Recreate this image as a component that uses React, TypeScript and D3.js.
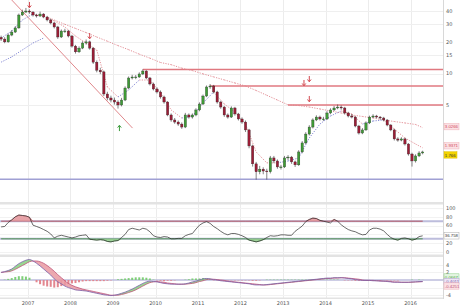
import React from "react";
import * as d3 from "d3";

// monthly bars starting May 2006
const closes = [
  21.5, 20.2, 23.5, 25.1, 27.5, 36.6, 39.1, 40.0, 39.1, 36.6,
  35.8, 37.4, 35.0, 32.8, 30.7, 28.1, 22.5, 25.7, 25.7, 23.0,
  18.4, 16.2, 17.6, 19.7, 20.2, 17.6, 12.9, 10.8, 10.4, 6.38,
  5.84, 5.58, 5.34, 5.00, 5.58, 7.28, 9.09, 9.29, 9.29, 9.93,
  10.6, 9.09, 7.96, 7.12, 6.67, 5.97, 5.34, 4.01, 3.59, 3.43,
  3.28, 3.07, 4.01, 3.83, 4.01, 4.48, 5.11, 6.10, 7.45, 7.61,
  6.67, 5.34, 4.78, 4.01, 3.83, 4.68, 4.10, 3.67, 3.43, 2.88,
  2.02, 1.36, 1.14, 1.21, 1.16, 1.14, 1.55, 1.45, 1.27, 1.27,
  1.55, 1.58, 1.42, 1.33, 1.77, 2.16, 2.63, 3.07, 3.59, 3.83,
  3.67, 3.67, 4.19, 4.48, 4.68, 4.78, 4.68, 4.19, 3.92, 3.83,
  3.14, 2.69, 2.88, 3.36, 3.83, 3.92, 3.83, 3.75, 3.59, 3.21,
  2.88, 2.36, 2.30, 2.36, 2.11, 1.69, 1.45, 1.62, 1.73, 1.77,
];
const firstOpen = 22.3;
const highs = [
  23.2, 22.4, 24.3, 26.2, 28.6, 37.8, 41.2, 42.8, 41.5, 39.8,
  37.6, 39.5, 38.2, 35.9, 33.6, 31.4, 28.8, 26.6, 27.0, 26.3,
  23.6, 18.9, 18.3, 20.5, 21.3, 20.8, 18.0, 13.4, 11.4, 10.7,
  6.70, 6.15, 5.90, 5.55, 5.85, 7.55, 9.40, 9.75, 9.70, 10.3,
  11.0, 10.8, 9.30, 8.20, 7.40, 6.90, 6.15, 5.45, 4.15, 3.75,
  3.55, 3.40, 4.20, 4.15, 4.15, 4.65, 5.30, 6.30, 7.70, 7.95,
  7.80, 6.85, 5.50, 4.90, 4.15, 4.85, 4.80, 4.20, 3.80, 3.55,
  2.95, 2.08, 1.42, 1.30, 1.26, 1.22, 1.62, 1.62, 1.50, 1.33,
  1.62, 1.65, 1.62, 1.46, 1.84, 2.25, 2.74, 3.20, 3.72, 3.98,
  3.95, 3.85, 4.35, 4.65, 4.90, 5.05, 4.95, 4.80, 4.30, 4.10,
  3.92, 3.22, 3.00, 3.48, 3.95, 4.08, 4.02, 3.92, 3.85, 3.65,
  3.28, 2.95, 2.45, 2.45, 2.42, 2.15, 1.74, 1.68, 1.80, 1.82,
];
const lows = [
  20.6, 19.6, 19.8, 22.9, 24.6, 27.0, 35.8, 38.2, 37.6, 35.4,
  34.6, 35.0, 34.1, 31.8, 29.8, 27.2, 21.6, 22.0, 24.6, 22.3,
  17.8, 15.6, 15.8, 17.2, 19.0, 17.0, 12.4, 10.3, 9.9, 6.10,
  5.55, 5.30, 5.05, 4.62, 4.85, 5.45, 7.10, 8.80, 8.85, 9.10,
  9.70, 8.85, 7.70, 6.90, 6.45, 5.75, 5.15, 3.90, 3.45, 3.30,
  3.15, 2.95, 3.00, 3.70, 3.70, 3.90, 4.35, 5.00, 5.95, 7.15,
  6.45, 5.15, 4.60, 3.85, 3.70, 3.75, 3.95, 3.55, 3.30, 2.75,
  1.92, 1.28, 0.96, 1.08, 1.08, 0.96, 1.10, 1.38, 1.22, 1.20,
  1.24, 1.48, 1.36, 1.27, 1.30, 1.72, 2.10, 2.55, 2.98, 3.50,
  3.55, 3.52, 3.60, 4.08, 4.38, 4.55, 4.50, 4.05, 3.80, 3.72,
  3.05, 2.60, 2.62, 2.82, 3.28, 3.75, 3.72, 3.62, 3.48, 3.12,
  2.80, 2.28, 2.22, 2.24, 2.04, 1.63, 1.28, 1.40, 1.58, 1.68,
];

// moving averages, sampled at month indices
const shortMaIdx = [0, 3, 6, 9, 12, 15, 18, 21, 24, 27, 30, 33, 36, 39, 42, 45, 48, 51, 54, 57, 60, 63, 66, 69, 72, 75, 78, 81, 84, 87, 90, 93, 96, 99, 102, 105, 108, 111, 114, 117, 119];
const shortMaValues = [22.0, 25.7, 32.8, 37.4, 35.8, 32.1, 28.1, 23.0, 19.7, 16.9, 7.45, 5.97, 6.97, 8.69, 8.69, 6.52, 4.48, 3.75, 3.92, 5.23, 6.67, 5.11, 4.28, 3.28, 1.77, 1.39, 1.39, 1.45, 1.55, 2.41, 3.28, 3.92, 4.38, 4.10, 3.28, 3.51, 3.59, 2.94, 2.41, 2.11, 1.94];
const midMaIdx = [0, 3, 6, 9, 12];
const midMaValues = [12.9, 14.5, 16.9, 19.7, 22.0];
const longMaIdx = [13, 15, 18, 21, 24, 27, 30, 33, 36, 39, 42, 45, 48, 51, 54, 57, 60, 63, 66, 69, 72, 75, 78, 81, 84, 87, 90, 93, 96, 99, 102, 105, 108, 111, 114, 117, 119];
const longMaValues = [35.0, 32.8, 29.8, 27.2, 24.8, 22.5, 20.5, 18.6, 17.0, 15.4, 14.1, 12.8, 12.2, 11.3, 10.7, 9.95, 9.31, 8.71, 8.14, 7.61, 6.89, 6.20, 5.58, 5.02, 4.94, 4.78, 4.58, 4.38, 4.19, 4.01, 3.88, 3.75, 3.59, 3.47, 3.36, 3.25, 3.03];

const rsiValues = [
  57, 58, 67, 73, 80, 84, 83, 82, 79, 61,
  58, 55, 51, 47, 41, 32, 36, 38, 36, 34,
  32, 34, 37, 38, 39, 29, 28, 27, 28, 27,
  24, 23, 25, 26, 33, 40, 51, 54, 52, 50,
  54, 52, 46, 37, 34, 33, 35, 34, 30, 30,
  31, 31, 37, 40, 42, 52, 61, 66, 69, 65,
  58, 53, 47, 42, 39, 42, 42, 40, 37, 33,
  27, 25, 23, 25, 28, 33, 37, 36, 37, 39,
  39, 38, 38, 47, 53, 59, 69, 74, 77, 76,
  72, 70, 68, 66, 74, 70, 62, 56, 51, 48,
  46, 42, 39, 40, 50, 54, 54, 52, 48, 40,
  33, 29, 27, 31, 32, 30, 27, 29, 35, 36.76,
];
const macdValues = [
  2.0, 2.2, 2.5, 2.9, 3.6, 4.3, 4.8, 5.2, 5.4, 5.0,
  4.4, 3.7, 2.9, 2.1, 1.3, 0.3, -0.5, -1.0, -1.6, -2.0,
  -2.3, -2.6, -2.7, -2.8, -2.9, -3.1, -3.3, -3.5, -3.7, -3.9,
  -4.0, -4.1, -4.0, -3.8, -3.5, -3.2, -2.8, -2.4, -1.9, -1.4,
  -0.9, -0.5, -0.3, -0.4, -0.5, -0.7, -0.9, -1.0, -1.1, -1.1,
  -1.1, -1.1, -1.0, -0.8, -0.5, -0.3, 0.0, 0.3, 0.4, 0.3,
  0.1, 0.0, -0.2, -0.3, -0.4, -0.5, -0.6, -0.7, -0.8, -0.9,
  -1.0, -1.2, -1.3, -1.3, -1.3, -1.2, -1.1, -1.0, -0.9, -0.8,
  -0.7, -0.6, -0.5, -0.4, -0.3, -0.2, -0.1, 0.0, 0.1, 0.2,
  0.3, 0.4, 0.5, 0.5, 0.6, 0.6, 0.6, 0.5, 0.4, 0.3,
  0.1, 0.0, -0.1, -0.1, -0.1, -0.2, -0.2, -0.3, -0.3, -0.4,
  -0.5, -0.6, -0.6, -0.6, -0.6, -0.6, -0.5, -0.5, -0.4, -0.40,
];
const signalValues = [
  2.0, 2.1, 2.2, 2.4, 2.8, 3.3, 3.8, 4.3, 4.8, 5.0,
  5.0, 4.8, 4.4, 3.8, 3.1, 2.3, 1.4, 0.6, -0.2, -0.9,
  -1.4, -1.8, -2.1, -2.4, -2.6, -2.8, -3.0, -3.2, -3.4, -3.6,
  -3.8, -4.0, -4.0, -4.0, -3.8, -3.6, -3.3, -3.0, -2.6, -2.1,
  -1.6, -1.1, -0.7, -0.5, -0.4, -0.5, -0.6, -0.8, -0.9, -1.0,
  -1.1, -1.1, -1.1, -1.0, -0.9, -0.7, -0.4, -0.2, 0.1, 0.2,
  0.2, 0.1, 0.0, -0.1, -0.3, -0.4, -0.5, -0.6, -0.7, -0.8,
  -0.9, -1.0, -1.1, -1.2, -1.3, -1.3, -1.2, -1.1, -1.0, -0.9,
  -0.8, -0.7, -0.6, -0.5, -0.4, -0.3, -0.2, -0.1, 0.0, 0.1,
  0.2, 0.3, 0.4, 0.4, 0.5, 0.5, 0.6, 0.6, 0.5, 0.4,
  0.3, 0.2, 0.0, -0.1, -0.1, -0.1, -0.2, -0.2, -0.3, -0.3,
  -0.4, -0.5, -0.5, -0.6, -0.6, -0.6, -0.6, -0.5, -0.5, -0.43,
];

const yearTicks = [2007, 2008, 2009, 2010, 2011, 2012, 2013, 2014, 2015, 2016];
const priceTicks = [40, 30, 20, 15, 10, 5];
const rsiTicks = [100, 80, 60, 20, 0];
const macdTicks = [4, 2, -4];

const resistancePrices = [10.97, 7.61, 5.0];
const resistanceStarts = [40, 59, 81];
const supportPrice = 0.966;
const trendIdx = [3, 37.1];
const trendPrices = [51, 3.0];
const downSignals = [[8, 45.7], [25, 23.0], [85.5, 8.14], [87, 8.89], [87, 5.71]];
const upSignals = [[33.4, 3.0]];

const lastLabels = { longMa: "3.0266", shortMa: "1.9371", close: "1.766", rsi: "36.758" };
const macdLabels = ["0.0667", "-0.4011", "-0.4251"];

const GREEN = "#3f9c37";
const RED = "#9c1d36";
const FONT = "DejaVu Sans, Arial, sans-serif";
const NARROW = "Liberation Sans, Arial, sans-serif";

const monthDate = (m: number) => new Date(Date.UTC(2006, 4, 15) + m * 30.44 * 864e5);
const snap = (v: number) => Math.round(v) + 0.5;

export default function App() {
  const W = 460, H = 308;
  const axisX = 443;
  const x = d3.scaleTime()
    .domain([new Date(Date.UTC(2007, 0, 1)), new Date(Date.UTC(2016, 0, 1))])
    .range([28, 410.5]);
  const y = d3.scaleLog().domain([5, 40]).range([105, 11]);
  const yRsi = d3.scaleLinear().domain([0, 100]).range([252, 208]);
  const yMacd = d3.scaleLinear().domain([-4, 4]).range([295.2, 264.8]);
  const xm = (m: number) => x(monthDate(m));

  const idx = d3.range(closes.length);

  const maSegments = (ids: number[], vals: number[]) =>
    ids.slice(1).map((id, i) => ({
      x1: xm(ids[i]), y1: y(vals[i]), x2: xm(id), y2: y(vals[i + 1]),
      rising: vals[i + 1] > vals[i],
    }));

  const rsiLine = d3.line<number>().x(i => xm(i)).y(i => yRsi(rsiValues[i]));
  const rsiAreaHigh = d3.area<number>().x(i => xm(i)).y0(yRsi(70)).y1(i => yRsi(Math.max(70, rsiValues[i])));
  const rsiAreaLow = d3.area<number>().x(i => xm(i)).y0(yRsi(30)).y1(i => yRsi(Math.min(30, rsiValues[i])));

  const macdLine = d3.line<number>().x(i => xm(i)).y(i => yMacd(macdValues[i])).curve(d3.curveMonotoneX);
  const signalLine = d3.line<number>().x(i => xm(i)).y(i => yMacd(signalValues[i])).curve(d3.curveMonotoneX);
  const top = 257, bottom = 298;
  const aboveSignal = d3.area<number>().x(i => xm(i)).y0(top).y1(i => yMacd(signalValues[i])).curve(d3.curveMonotoneX);
  const belowSignal = d3.area<number>().x(i => xm(i)).y0(bottom).y1(i => yMacd(signalValues[i])).curve(d3.curveMonotoneX);
  const aboveMacd = d3.area<number>().x(i => xm(i)).y0(top).y1(i => yMacd(macdValues[i])).curve(d3.curveMonotoneX);
  const belowMacd = d3.area<number>().x(i => xm(i)).y0(bottom).y1(i => yMacd(macdValues[i])).curve(d3.curveMonotoneX);

  const label = (yy: number, text: string, fill: string, stroke: string, color: string, w = 15) => (
    <g>
      <rect x={axisX + 1} y={yy - 3.2} width={w} height={6.4} fill={fill} stroke={stroke} strokeWidth={0.5} />
      <text x={axisX + 1.8} y={yy + 1.6} fontSize={4.3} fill={color} fontFamily={NARROW}>{text}</text>
    </g>
  );

  return (
    <svg width={W} height={H} style={{ position: "absolute", left: 0, top: 0, background: "#fff" }}>
      <defs>
        <clipPath id="clip-main"><rect x={0} y={0} width={axisX} height={200} /></clipPath>
        <clipPath id="c-below-macd"><path d={belowMacd(idx) || ""} /></clipPath>
        <clipPath id="c-below-signal"><path d={belowSignal(idx) || ""} /></clipPath>
      </defs>

      {/* grid */}
      {yearTicks.map(t => {
        const gx = snap(x(new Date(Date.UTC(t, 0, 1))));
        return <line key={t} x1={gx} x2={gx} y1={0} y2={298} stroke="#ececec" strokeWidth={1} />;
      })}
      {priceTicks.map(t => (
        <line key={t} x1={0} x2={axisX} y1={snap(y(t))} y2={snap(y(t))} stroke="#efefef" strokeWidth={1} />
      ))}
      {[...rsiTicks, 40].map(t => (
        <line key={t} x1={0} x2={axisX} y1={snap(yRsi(t))} y2={snap(yRsi(t))} stroke="#f2f2f2" strokeWidth={1} />
      ))}
      {[4, 2, -2, -4].map(t => (
        <line key={t} x1={0} x2={axisX} y1={snap(yMacd(t))} y2={snap(yMacd(t))} stroke="#f2f2f2" strokeWidth={1} />
      ))}

      {/* panel separators */}
      <rect x={0} y={202} width={axisX} height={2.5} fill="#e3e3e3" />
      <rect x={0} y={254.5} width={axisX} height={2.5} fill="#e3e3e3" />
      <rect x={0} y={297.5} width={axisX} height={1.5} fill="#e3e3e3" />
      <line x1={axisX + 0.5} x2={axisX + 0.5} y1={0} y2={299} stroke="#d8d8d8" strokeWidth={1} />

      <g clipPath="url(#clip-main)">
        {/* levels */}
        {resistancePrices.map((p, i) => (
          <line key={i} x1={xm(resistanceStarts[i])} x2={axisX} y1={y(p)} y2={y(p)} stroke="#e07880" strokeWidth={1.4} />
        ))}
        <line x1={0} x2={axisX} y1={y(supportPrice)} y2={y(supportPrice)} stroke="#a0a0d4" strokeWidth={1.4} />
        <line x1={xm(trendIdx[0])} y1={y(trendPrices[0])} x2={xm(trendIdx[1])} y2={y(trendPrices[1])} stroke="#e0888c" strokeWidth={1} />

        {/* moving averages */}
        {[maSegments(midMaIdx, midMaValues), maSegments(longMaIdx, longMaValues), maSegments(shortMaIdx, shortMaValues)].map((segs, k) => (
          <g key={k}>
            {segs.map((s, i) => (
              <line key={i} x1={s.x1} y1={s.y1} x2={s.x2} y2={s.y2} stroke={s.rising ? "#7a7fd0" : "#e0848c"} strokeWidth={0.9} strokeDasharray="1.2,1.3" />
            ))}
          </g>
        ))}

        {/* candles */}
        {idx.map(i => {
          const o = i === 0 ? firstOpen : closes[i - 1];
          const c = closes[i];
          const cx = xm(i);
          const t = y(Math.max(o, c));
          const b = y(Math.min(o, c));
          return (
            <g key={i}>
              <line x1={cx} x2={cx} y1={y(highs[i])} y2={y(lows[i])} stroke="#333" strokeWidth={0.6} />
              <rect x={cx - 1.2} width={2.4} y={t} height={Math.max(0.8, b - t)} fill={c >= o ? GREEN : RED} stroke="#2a2a2a" strokeWidth={0.3} />
            </g>
          );
        })}

        {/* signal arrows */}
        {downSignals.map(([m, p], i) => {
          const cx = xm(m), cy = y(p);
          return (
            <g key={i} stroke="#d2484f" strokeWidth={1} fill="none">
              <line x1={cx} x2={cx} y1={cy - 3} y2={cy + 2.5} />
              <polyline points={`${cx - 1.8},${cy + 0.5} ${cx},${cy + 2.8} ${cx + 1.8},${cy + 0.5}`} />
            </g>
          );
        })}
        {upSignals.map(([m, p], i) => {
          const cx = xm(m), cy = y(p);
          return (
            <g key={i} stroke="#3d9c3d" strokeWidth={1} fill="none">
              <line x1={cx} x2={cx} y1={cy + 3} y2={cy - 2.5} />
              <polyline points={`${cx - 1.8},${cy - 0.5} ${cx},${cy - 2.8} ${cx + 1.8},${cy - 0.5}`} />
            </g>
          );
        })}
      </g>

      {/* RSI */}
      <line x1={0} x2={axisX} y1={yRsi(70)} y2={yRsi(70)} stroke="#bdbddc" strokeWidth={2} />
      <line x1={0} x2={axisX} y1={yRsi(30)} y2={yRsi(30)} stroke="#bdbddc" strokeWidth={2} />
      <path d={rsiAreaHigh(idx) || ""} fill="#e7a3a8" stroke="#b2454f" strokeWidth={0.5} />
      <path d={rsiAreaLow(idx) || ""} fill="#9fd39a" stroke="#3e8d3a" strokeWidth={0.5} />
      <path d={rsiLine(idx) || ""} fill="none" stroke="#2b2b2b" strokeWidth={0.7} />

      {/* MACD */}
      <line x1={0} x2={axisX} y1={yMacd(0)} y2={yMacd(0)} stroke="#bdbddc" strokeWidth={1.5} />
      {idx.map(i => {
        const h = macdValues[i] - signalValues[i];
        return (
          <rect key={i} x={xm(i) - 1} width={2} y={Math.min(yMacd(0), yMacd(h))} height={Math.abs(yMacd(h) - yMacd(0))}
            fill={h >= 0 ? "#7fcf78" : "#e3868f"} />
        );
      })}
      <path d={aboveSignal(idx) || ""} clipPath="url(#c-below-macd)" fill="#86d07e" opacity={0.85} />
      <path d={aboveMacd(idx) || ""} clipPath="url(#c-below-signal)" fill="#e99aa2" opacity={0.85} />
      <path d={signalLine(idx) || ""} fill="none" stroke="#c0567a" strokeWidth={0.8} />
      <path d={macdLine(idx) || ""} fill="none" stroke="#7a5ea8" strokeWidth={0.8} />

      {/* right axis labels */}
      <g fontFamily={FONT} fontSize={5} fill="#555">
        {priceTicks.map(t => <text key={t} x={axisX + 3} y={y(t) + 1.8}>{t}</text>)}
        {rsiTicks.map(t => <text key={t} x={axisX + 3} y={yRsi(t) + 1.8}>{t}</text>)}
        {macdTicks.map(t => <text key={t} x={axisX + 3} y={yMacd(t) + 1.8}>{t}</text>)}
      </g>
      {label(y(longMaValues[longMaValues.length - 1]) - 1, lastLabels.longMa, "#fbe1e4", "#efb1b8", "#d2485a")}
      {label(y(shortMaValues[shortMaValues.length - 1]) - 2, lastLabels.shortMa, "#fbe1e4", "#efb1b8", "#d2485a")}
      {label(y(closes[closes.length - 1]) + 3, lastLabels.close, "#f3d400", "#e0c000", "#333", 13)}
      {label(yRsi(rsiValues[rsiValues.length - 1]), lastLabels.rsi, "#fff", "#aaa", "#333")}
      {label(277, macdLabels[0], "#e4f5e2", "#8bcf84", "#3f9c37")}
      {label(281.5, macdLabels[1], "#eee6f6", "#b9a4d8", "#7a5ea8")}
      {label(286, macdLabels[2], "#fbe1e4", "#efb1b8", "#c0567a")}

      {/* x axis */}
      <g fontFamily={FONT} fontSize={5} fill="#555" textAnchor="middle">
        {yearTicks.map(t => <text key={t} x={x(new Date(Date.UTC(t, 0, 1)))} y={305}>{t}</text>)}
      </g>
    </svg>
  );
}
